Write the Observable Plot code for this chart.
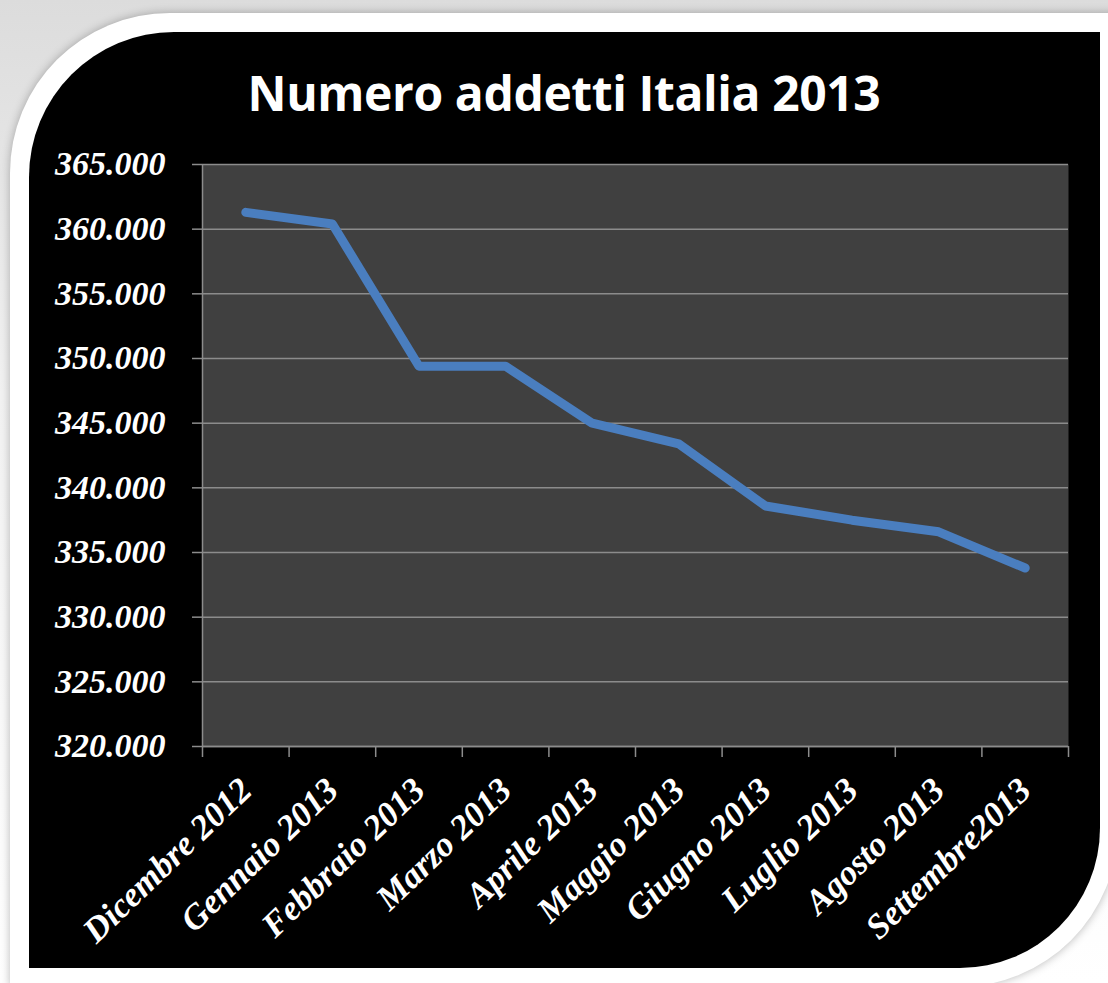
<!DOCTYPE html>
<html>
<head>
<meta charset="utf-8">
<script src="https://cdn.jsdelivr.net/npm/d3@7"></script>
<script src="https://cdn.jsdelivr.net/npm/@observablehq/plot@0.6"></script>
<style>
  html, body { margin: 0; padding: 0; }
  body { width: 1108px; height: 983px; overflow: hidden; position: relative;
         background: linear-gradient(#dcdcdc, #f2f2f2 40%, #ffffff); }
  #frame { position: absolute; left: 10px; top: 13px; width: 1108px; height: 974px;
           background: #fff; border-radius: 160px 0 160px 0;
           box-shadow: 0 0 10px rgba(0,0,0,0.28); }
  #panel { position: absolute; left: 29px; top: 32px; width: 1071px; height: 936px;
           background: #000; border-radius: 145px 0 140px 0; }
  #title { position: absolute; left: 0; width: 1128px; top: 60px; text-align: center;
           color: #fff; font-family: "Open Sans", sans-serif; font-weight: 700;
           font-size: 48px; letter-spacing: -0.4px; }
  #chart { position: absolute; left: 0; top: 0; }
  #chart svg { overflow: visible; }
</style>
</head>
<body>
<div id="frame"></div>
<div id="panel"></div>
<div id="title">Numero addetti Italia 2013</div>
<div id="chart"></div>
<script>
const months = ["Dicembre 2012","Gennaio 2013","Febbraio 2013","Marzo 2013","Aprile 2013",
                "Maggio 2013","Giugno 2013","Luglio 2013","Agosto 2013","Settembre2013"];
const addetti = [361300, 360400, 349400, 349400, 345000, 343400, 338600, 337500, 336600, 333800];
const yTicks = [320000, 325000, 330000, 335000, 340000, 345000, 350000, 355000, 360000, 365000];

const data = months.map((m, i) => ({i, month: m, value: addetti[i]}));
const idx = months.map((m, i) => i);
const bounds = [-0.5, ...idx.map(i => i + 0.5)];

const fmt = d3.formatLocale({decimal: ",", thousands: ".", grouping: [3]}).format(",");
const gridColor = "#8c8c8c";
const labelFont = "'Liberation Serif', 'Times New Roman', serif";

const plot = Plot.plot({
  width: 1108,
  height: 983,
  marginLeft: 202,
  marginRight: 40,
  marginTop: 164,
  marginBottom: 237,
  style: {background: "transparent", overflow: "visible"},
  x: {domain: [-0.5, months.length - 0.5], axis: null},
  y: {domain: [320000, 365000], axis: null},
  marks: [
    Plot.frame({fill: "#404040", stroke: null}),
    Plot.gridY(yTicks, {stroke: gridColor, strokeOpacity: 1, strokeWidth: 1.5}),
    Plot.ruleX([-0.5], {stroke: gridColor, strokeWidth: 1.5}),
    Plot.ruleY([320000], {stroke: gridColor, strokeWidth: 1.5}),
    Plot.axisY(yTicks, {
      tickSize: 10, tickPadding: 27, stroke: gridColor, strokeWidth: 1.5,
      tickFormat: fmt, fill: "#fff", fontSize: 34, fontStyle: "italic", fontWeight: "bold",
      fontFamily: labelFont, letterSpacing: "1px", label: null
    }),
    Plot.axisX(bounds, {tickSize: 11, stroke: gridColor, strokeWidth: 1.5, tickFormat: () => "", label: null}),
    Plot.text(data, {
      x: "i", y: () => 320000, text: "month", rotate: -44, textAnchor: "end", lineAnchor: "bottom",
      dx: 8, dy: 46, fill: "#fff", fontSize: 35, fontStyle: "italic", fontWeight: "bold",
      fontFamily: labelFont
    }),
    Plot.line(data, {x: "i", y: "value", stroke: "#4a7ebf", strokeWidth: 9,
                     strokeLinecap: "round", strokeLinejoin: "round"})
  ]
});
document.getElementById("chart").appendChild(plot);
</script>
</body>
</html>
